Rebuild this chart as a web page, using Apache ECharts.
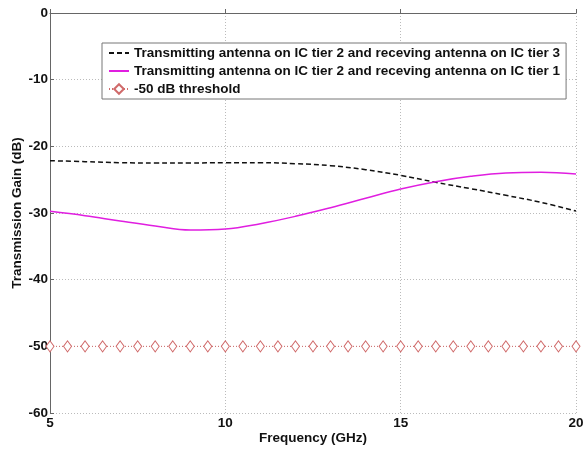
<!DOCTYPE html>
<html><head><meta charset="utf-8">
<script src="https://cdn.jsdelivr.net/npm/echarts@6/dist/echarts.min.js"></script>
<style>html,body{margin:0;padding:0;background:#fff}#c{width:583px;height:449px}</style>
</head><body><div id="c"></div>
<script>
const freq = [5,6,7,8,9,10,11,12,13,14,15,16,17,18,19,20];
const tier3 = [-22.15,-22.3,-22.45,-22.5,-22.5,-22.45,-22.45,-22.6,-22.9,-23.5,-24.35,-25.4,-26.35,-27.35,-28.4,-29.7];
const tier1 = [-29.75,-30.4,-31.2,-31.95,-32.55,-32.4,-31.6,-30.5,-29.2,-27.8,-26.4,-25.3,-24.5,-24.0,-23.9,-24.15];
const thrFreq = [5,5.5,6,6.5,7,7.5,8,8.5,9,9.5,10,10.5,11,11.5,12,12.5,13,13.5,14,14.5,15,15.5,16,16.5,17,17.5,18,18.5,19,19.5,20];
const thrLevel = -50;
const names = ['Transmitting antenna on IC tier 2 and receving antenna on IC tier 3',
               'Transmitting antenna on IC tier 2 and receving antenna on IC tier 1',
               '-50 dB threshold'];

const font = 'Arial, "Liberation Sans", sans-serif';
const fs = 13.5;
const txt = {fontFamily:font,fontWeight:'bold',fontSize:fs,color:'#111'};
const chart = echarts.init(document.getElementById('c'));
chart.setOption({
  animation:false,
  grid:{left:50,right:7,top:13,bottom:36,containLabel:false,outerBoundsMode:'none'},
  legend:{
    orient:'vertical', left:102, top:43,
    backgroundColor:'#fff', borderColor:'#777', borderWidth:1,
    padding:[3,6,3,6], itemWidth:20, itemHeight:12, itemGap:4,
    textStyle:txt,
    data:[{name:names[0],itemStyle:{opacity:0}},{name:names[1],itemStyle:{opacity:0}},{name:names[2]}]
  },
  xAxis:{type:'value',min:5,max:20,interval:5,
    name:'Frequency (GHz)',nameLocation:'middle',nameGap:18,nameMoveOverlap:false,
    nameTextStyle:txt,
    axisLine:{lineStyle:{color:'#666'}},axisTick:{show:true,inside:true,length:4,lineStyle:{color:'#666'}},
    axisLabel:Object.assign({margin:3},txt),
    splitLine:{show:true,lineStyle:{color:'#bbb',type:[1,2]}}},
  yAxis:{type:'value',min:-60,max:0,interval:10,
    name:'Transmission Gain (dB)',nameLocation:'middle',nameGap:26,nameRotate:90,nameMoveOverlap:false,
    nameTextStyle:txt,
    axisLine:{show:true,lineStyle:{color:'#666'}},axisTick:{show:true,inside:true,length:4,lineStyle:{color:'#666'}},
    axisLabel:Object.assign({margin:2},txt),
    splitLine:{show:true,lineStyle:{color:'#bbb',type:[1,2]}}},
  series:[
    {name:names[0],type:'line',data:freq.map((f,i)=>[f,tier3[i]]),smooth:0.4,showSymbol:false,symbol:'circle',
     lineStyle:{color:'#111',width:1.5,type:[5,3]},itemStyle:{color:'#111'}},
    {name:names[1],type:'line',data:freq.map((f,i)=>[f,tier1[i]]),smooth:0.4,showSymbol:false,symbol:'circle',
     lineStyle:{color:'#e01ee0',width:1.5},itemStyle:{color:'#e01ee0'}},
    {name:names[2],type:'line',data:thrFreq.map(f=>[f,thrLevel]),symbol:'diamond',symbolSize:[8,11],
     lineStyle:{color:'#d06a6a',width:1,type:[1,2]},itemStyle:{color:'#fff',borderColor:'#d06a6a',borderWidth:1}}
  ]
});
</script></body></html>
